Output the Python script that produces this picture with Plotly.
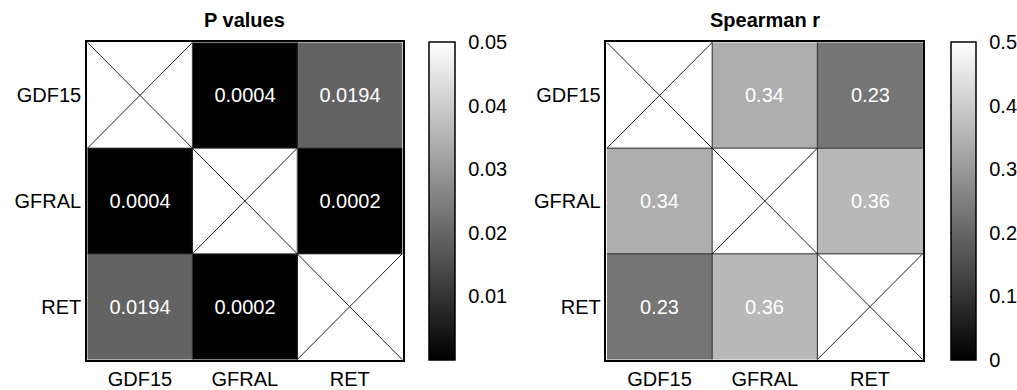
import plotly.graph_objects as go

genes = ["GDF15", "GFRAL", "RET"]
p_values = [[None, 0.0004, 0.0194],
            [0.0004, None, 0.0002],
            [0.0194, 0.0002, None]]
spearman_r = [[None, 0.34, 0.23],
              [0.34, None, 0.36],
              [0.23, 0.36, None]]
p_ticks = [0.01, 0.02, 0.03, 0.04, 0.05]
r_ticks = [0, 0.1, 0.2, 0.3, 0.4, 0.5]

W, H = 1017, 390
ML, MR, MT, MB = 87, 0, 42, 30
PW, PH = W - ML - MR, H - MT - MB
FONT = "Liberation Sans, Arial, sans-serif"
FS = 20


def px_x(v):
    return (v - ML) / PW


def px_y(v):
    return 1 - (v - MT) / PH


top, bottom = 42, 360
panels = [
    dict(z=p_values, fmt="{:.4f}", zmax=0.05, ticks=p_ticks, x0=87, x1=403, cb0=429, cb1=455,
         title="P values", xa="x", ya="y"),
    dict(z=spearman_r, fmt="{:.2f}", zmax=0.5, ticks=r_ticks, x0=607, x1=924, cb0=951, cb1=976,
         title="Spearman r", xa="x2", ya="y2"),
]

fig = go.Figure()
shapes = []
annotations = []
for k, p in enumerate(panels):
    text = [["" if v is None else p["fmt"].format(v) for v in row] for row in p["z"]]
    fig.add_trace(go.Heatmap(
        z=p["z"], x=genes, y=genes, xaxis=p["xa"], yaxis=p["ya"],
        zmin=0, zmax=p["zmax"],
        colorscale=[[0, "black"], [1, "white"]],
        text=text, texttemplate="%{text}",
        textfont=dict(color="white", size=FS, family=FONT),
        hoverinfo="skip",
        colorbar=dict(
            x=px_x(p["cb0"]), xanchor="left", xref="paper",
            y=px_y(bottom), yanchor="bottom", len=(bottom - top) / PH, lenmode="fraction",
            thickness=p["cb1"] - p["cb0"], thicknessmode="pixels",
            xpad=0, ypad=0,
            outlinewidth=1.5, outlinecolor="black",
            tickvals=p["ticks"], ticktext=[("{:g}".format(t)) for t in p["ticks"]],
            ticks="outside", ticklen=9, tickcolor="rgba(0,0,0,0)", tickwidth=1,
            tickfont=dict(size=FS, family=FONT, color="black"),
        ),
    ))
    xref = p["xa"]
    yref = p["ya"]
    n = len(genes)
    # cell grid lines
    for i in range(1, n):
        shapes.append(dict(type="line", xref=xref, yref=yref, x0=i - 0.5, x1=i - 0.5, y0=-0.5, y1=n - 0.5,
                           line=dict(color="#2a2a2a", width=1)))
        shapes.append(dict(type="line", xref=xref, yref=yref, y0=i - 0.5, y1=i - 0.5, x0=-0.5, x1=n - 0.5,
                           line=dict(color="#2a2a2a", width=1)))
    # crosses in diagonal cells
    for i in range(n):
        shapes.append(dict(type="line", xref=xref, yref=yref, x0=i - 0.5, x1=i + 0.5, y0=i - 0.5, y1=i + 0.5,
                           line=dict(color="#222222", width=1)))
        shapes.append(dict(type="line", xref=xref, yref=yref, x0=i - 0.5, x1=i + 0.5, y0=i + 0.5, y1=i - 0.5,
                           line=dict(color="#222222", width=1)))
    # colorbar inside ticks on both edges
    for t in p["ticks"]:
        if t <= 0 or t >= p["zmax"]:
            continue
        yy = bottom - (bottom - top) * t / p["zmax"]
        for a, b in ((p["cb0"], p["cb0"] + 5), (p["cb1"] - 5, p["cb1"])):
            shapes.append(dict(type="line", xref="paper", yref="paper",
                               x0=px_x(a), x1=px_x(b), y0=px_y(yy), y1=px_y(yy),
                               line=dict(color="black", width=1)))
    annotations.append(dict(text="<b>" + p["title"] + "</b>", xref="paper", yref="paper",
                            x=px_x((p["x0"] + p["x1"]) / 2), y=px_y(20), xanchor="center", yanchor="middle",
                            showarrow=False, font=dict(size=FS, family=FONT, color="black")))

axis_common = dict(showline=True, mirror=True, linecolor="black", linewidth=1.5, ticks="",
                   showgrid=False, zeroline=False, tickfont=dict(size=FS, family=FONT, color="black"),
                   fixedrange=True)
fig.update_layout(
    width=W, height=H,
    margin=dict(l=ML, r=MR, t=MT, b=MB),
    paper_bgcolor="white", plot_bgcolor="white",
    showlegend=False,
    shapes=shapes, annotations=annotations,
    xaxis=dict(domain=[px_x(87), px_x(403)], anchor="y", **axis_common),
    yaxis=dict(domain=[px_y(bottom), px_y(top)], anchor="x", autorange="reversed", **axis_common),
    xaxis2=dict(domain=[px_x(607), px_x(924)], anchor="y2", **axis_common),
    yaxis2=dict(domain=[px_y(bottom), px_y(top)], anchor="x2", autorange="reversed", **axis_common),
)
fig.write_html("out.html", config={"displayModeBar": False},
               post_script="document.body.style.margin='0';document.body.style.overflow='hidden';")
